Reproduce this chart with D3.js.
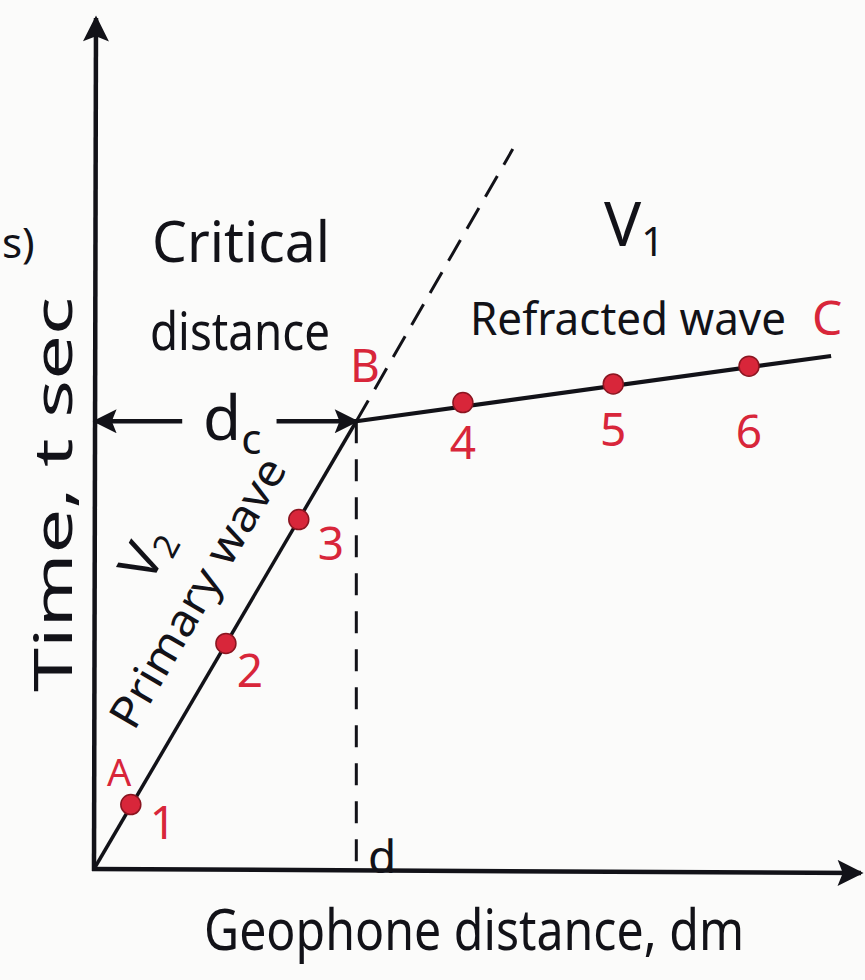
<!DOCTYPE html>
<html>
<head>
<meta charset="utf-8">
<script src="https://cdn.jsdelivr.net/npm/d3@7"></script>
<style>
  html, body { margin: 0; padding: 0; background: #fbfbfa; }
  svg { display: block; }
  text { font-family: "Noto Sans", "DejaVu Sans", sans-serif; }
</style>
</head>
<body>
<svg id="chart" width="865" height="980"></svg>
<script>
// Travel-time (t–d) plot for seismic refraction: direct and refracted arrivals
const geophones = ["1", "2", "3", "4", "5", "6"];
const distance  = [4.8, 17.2, 26.7, 48.1, 67.7, 85.4];   // geophone distance
const arrival   = [7.6, 26.6, 41.2, 55.0, 57.2, 59.3];   // first arrival time
const origin        = [0, 0];
const crossover     = [34.2, 52.8];   // point B, critical distance
const refractedEnd  = [96.1, 60.5];   // point C
const extensionEnd  = [54.6, 84.9];   // direct wave continued beyond B

const ink = "#121218";
const red = "#d8263a";

const svg = d3.select("#chart");
const x = d3.scaleLinear().domain([0, 100]).range([94, 861]);
const y = d3.scaleLinear().domain([0, 100]).range([869, 21]);

// arrowhead markers
const defs = svg.append("defs");
function marker(id, w, h) {
  defs.append("marker")
    .attr("id", id).attr("viewBox", "0 0 10 10")
    .attr("refX", 9).attr("refY", 5)
    .attr("markerWidth", w).attr("markerHeight", h)
    .attr("markerUnits", "userSpaceOnUse")
    .attr("orient", "auto-start-reverse")
    .append("path").attr("d", "M0,0 L10,5 L0,10 L2,5 Z").attr("fill", ink);
}
marker("axisHead", 30, 26);
marker("dimHead", 28, 24);

// axes
svg.append("line")
  .attr("x1", x(0)).attr("y1", y(0) + 2).attr("x2", x(0) + 2).attr("y2", y(100) - 3)
  .attr("stroke", ink).attr("stroke-width", 4.5).attr("marker-end", "url(#axisHead)");
svg.append("line")
  .attr("x1", x(0) - 2).attr("y1", y(0)).attr("x2", x(100)).attr("y2", y(0) + 4)
  .attr("stroke", ink).attr("stroke-width", 4.5).attr("marker-end", "url(#axisHead)");

const lineGen = d3.line().x(d => x(d[0])).y(d => y(d[1]));

// direct (primary) wave and refracted wave
svg.append("path").datum([origin, crossover]).attr("d", lineGen)
  .attr("stroke", ink).attr("stroke-width", 3.5).attr("fill", "none");
svg.append("path").datum([crossover, refractedEnd]).attr("d", lineGen)
  .attr("stroke", ink).attr("stroke-width", 4.2).attr("fill", "none");

// dashed continuation of the direct wave
svg.append("path").datum([crossover, extensionEnd]).attr("d", lineGen)
  .attr("stroke", ink).attr("stroke-width", 3).attr("fill", "none")
  .attr("stroke-dasharray", "24 13");

// dashed drop from B to the distance axis
svg.append("path").datum([crossover, [crossover[0], 0]]).attr("d", lineGen)
  .attr("stroke", ink).attr("stroke-width", 3).attr("fill", "none")
  .attr("stroke-dasharray", "22 16");

// critical distance dimension arrows
svg.append("line")
  .attr("x1", x(11.5)).attr("y1", y(crossover[1])).attr("x2", x(0) + 1).attr("y2", y(crossover[1]))
  .attr("stroke", ink).attr("stroke-width", 4.5).attr("marker-end", "url(#dimHead)");
svg.append("line")
  .attr("x1", x(23.8)).attr("y1", y(crossover[1])).attr("x2", x(crossover[0])).attr("y2", y(crossover[1]))
  .attr("stroke", ink).attr("stroke-width", 4.5).attr("marker-end", "url(#dimHead)");

// geophone readings
svg.selectAll("circle.pt").data(distance).join("circle")
  .attr("class", "pt")
  .attr("cx", d => x(d)).attr("cy", (d, i) => y(arrival[i]))
  .attr("r", 10).attr("fill", red).attr("stroke", "#8a1520").attr("stroke-width", 1.5);

// geophone numbers
const numOffset = [[32, 34], [24, 44], [32, 40], [0, 56], [0, 62], [0, 82]];
svg.selectAll("text.num").data(geophones).join("text")
  .attr("class", "num")
  .attr("x", (d, i) => x(distance[i]) + numOffset[i][0])
  .attr("y", (d, i) => y(arrival[i]) + numOffset[i][1])
  .attr("text-anchor", "middle")
  .attr("fill", red).attr("font-size", 46).attr("font-weight", 400)
  .text(d => d);

// labels
function label(txt, px, py, size, opts = {}) {
  const t = svg.append("text")
    .attr("x", px).attr("y", py)
    .attr("font-size", size)
    .attr("fill", opts.fill || ink)
    .attr("font-weight", opts.weight || 400)
    .attr("text-anchor", opts.anchor || "start")
    .text(txt);
  if (opts.len) t.attr("textLength", opts.len).attr("lengthAdjust", "spacingAndGlyphs");
  if (opts.rotate !== undefined) t.attr("transform", `rotate(${opts.rotate},${px},${py})`);
  return t;
}

label("Critical", 152, 262, 56, { len: 178 });
label("distance", 150, 350, 52, { len: 180 });
label("B", 350, 382, 46, { fill: red });
label("A", 107, 786, 38, { fill: red });
label("C", 812, 335, 48, { fill: red });
label("Refracted wave", 470, 335, 46, { len: 316 });

// V1
const v1 = svg.append("text").attr("x", 604).attr("y", 246).attr("font-size", 62)
  .attr("font-weight", 400).attr("fill", ink);
v1.append("tspan").text("V");
v1.append("tspan").attr("font-size", 40).attr("dy", 10).text("1");

// d_c
const dc = svg.append("text").attr("x", 203).attr("y", 440).attr("font-size", 62)
  .attr("font-weight", 400).attr("fill", ink);
dc.append("tspan").text("d");
dc.append("tspan").attr("font-size", 42).attr("dy", 14).text("c");

// V2 along the direct wave
const v2 = svg.append("text").attr("x", 150).attr("y", 585).attr("font-size", 54)
  .attr("font-weight", 400).attr("fill", ink)
  .attr("transform", "rotate(-62,150,585)");
v2.append("tspan").text("V");
v2.append("tspan").attr("font-size", 34).attr("dy", 8).text("2");

label("Primary wave", 134, 732, 44, { rotate: -59.7, len: 305 });

// distance label on the axis
label("d", 368, 873, 46);

// axis titles
label("Geophone distance, dm", 204, 950, 56, { len: 540 });
label("Time, t sec", 72, 692, 52, { rotate: -90, len: 395 });
label("s)", 2, 258, 42);
</script>
</body>
</html>
